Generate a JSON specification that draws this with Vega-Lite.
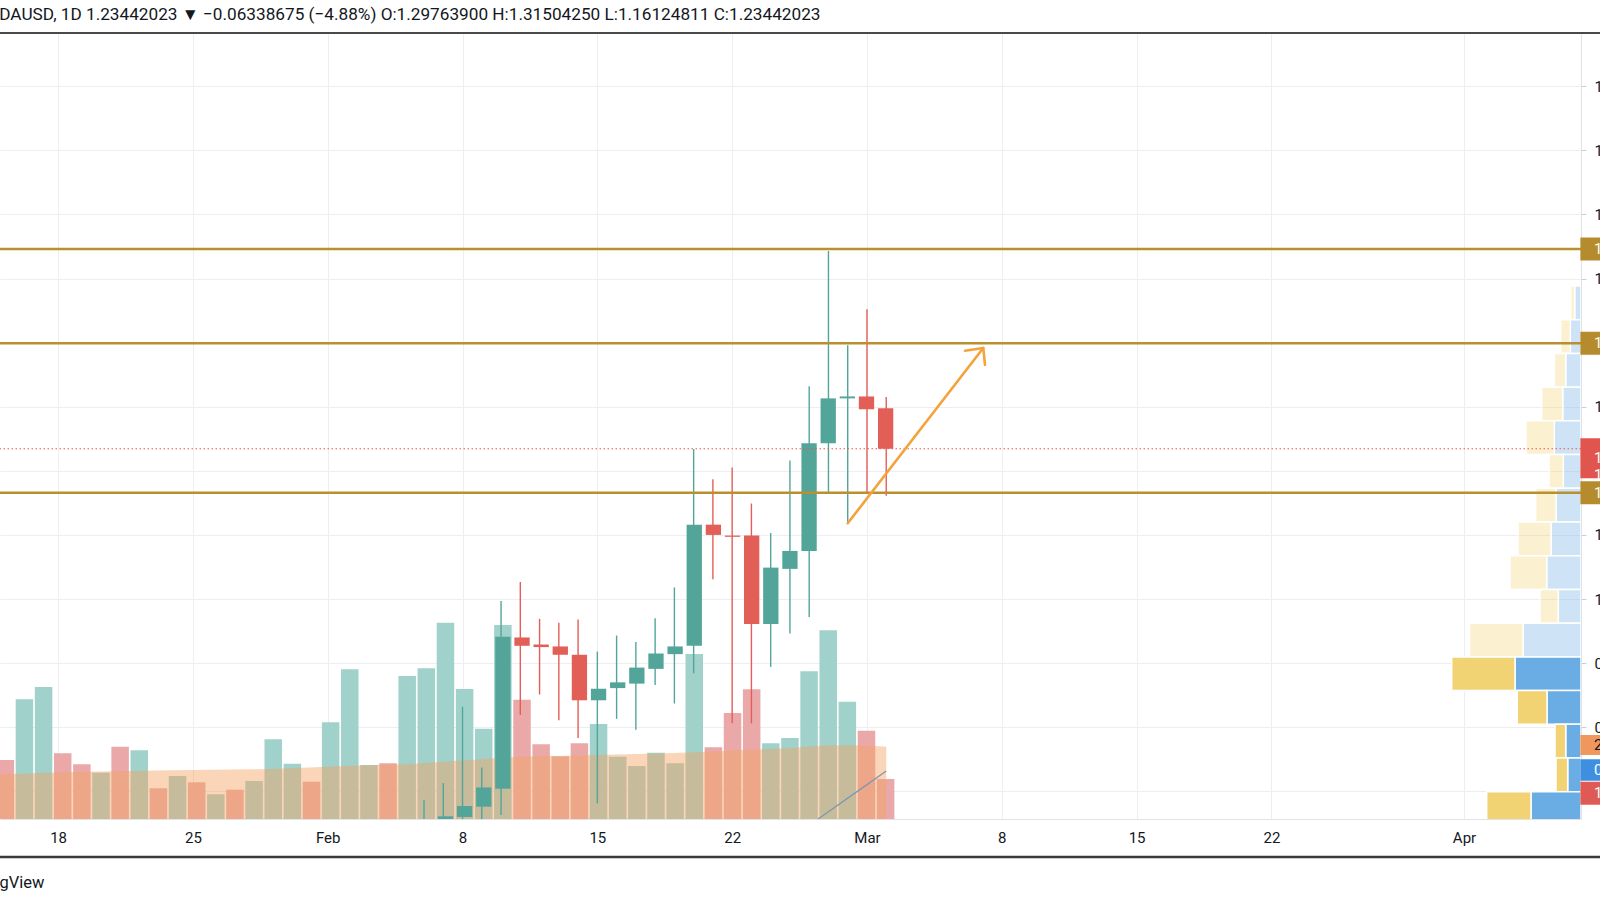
{
  "$schema": "https://vega.github.io/schema/vega-lite/v6.json",
  "width": 1581,
  "height": 786,
  "autosize": {"type": "none"},
  "padding": {"left": 0, "top": 33, "right": 19, "bottom": 81},
  "background": "#ffffff",
  "config": {
    "view": {"stroke": null},
    "font": "Roboto",
    "legend": {"disable": true},
    "axis": {"labelFont": "Roboto", "titleFont": "Roboto"}
  },
  "title": {
    "text": "ADAUSD, 1D  1.23442023 ▼ −0.06338675 (−4.88%)  O:1.29763900  H:1.31504250  L:1.16124811  C:1.23442023",
    "anchor": "start",
    "frame": "group",
    "dx": -12,
    "offset": 9,
    "fontSize": 17.2,
    "fontWeight": "normal",
    "color": "#131722",
    "font": "Roboto"
  },
  "datasets": {
    "candles": [
      {"t": "2021-02-06", "o": 0.62, "h": 0.686, "l": 0.58, "c": 0.64},
      {"t": "2021-02-07", "o": 0.64, "h": 0.713, "l": 0.6, "c": 0.661},
      {"t": "2021-02-08", "o": 0.66, "h": 0.832, "l": 0.655, "c": 0.677},
      {"t": "2021-02-09", "o": 0.676, "h": 0.737, "l": 0.645, "c": 0.706},
      {"t": "2021-02-10", "o": 0.704, "h": 0.997, "l": 0.663, "c": 0.941},
      {"t": "2021-02-11", "o": 0.94, "h": 1.0265, "l": 0.819, "c": 0.927},
      {"t": "2021-02-12", "o": 0.929, "h": 0.969, "l": 0.851, "c": 0.925},
      {"t": "2021-02-13", "o": 0.926, "h": 0.963, "l": 0.811, "c": 0.913},
      {"t": "2021-02-14", "o": 0.913, "h": 0.968, "l": 0.783, "c": 0.842},
      {"t": "2021-02-15", "o": 0.842, "h": 0.918, "l": 0.681, "c": 0.86},
      {"t": "2021-02-16", "o": 0.861, "h": 0.943, "l": 0.813, "c": 0.87},
      {"t": "2021-02-17", "o": 0.868, "h": 0.933, "l": 0.796, "c": 0.893},
      {"t": "2021-02-18", "o": 0.891, "h": 0.97, "l": 0.866, "c": 0.915},
      {"t": "2021-02-19", "o": 0.914, "h": 1.018, "l": 0.837, "c": 0.926},
      {"t": "2021-02-20", "o": 0.927, "h": 1.234, "l": 0.884, "c": 1.116},
      {"t": "2021-02-21", "o": 1.116, "h": 1.187, "l": 1.031, "c": 1.1},
      {"t": "2021-02-22", "o": 1.099, "h": 1.205, "l": 0.806, "c": 1.097},
      {"t": "2021-02-23", "o": 1.099, "h": 1.149, "l": 0.806, "c": 0.961},
      {"t": "2021-02-24", "o": 0.961, "h": 1.103, "l": 0.894, "c": 1.049},
      {"t": "2021-02-25", "o": 1.047, "h": 1.216, "l": 0.946, "c": 1.075},
      {"t": "2021-02-26", "o": 1.075, "h": 1.332, "l": 0.972, "c": 1.243},
      {"t": "2021-02-27", "o": 1.243, "h": 1.543, "l": 1.167, "c": 1.313},
      {"t": "2021-02-28", "o": 1.313, "h": 1.396, "l": 1.118, "c": 1.316},
      {"t": "2021-03-01", "o": 1.316, "h": 1.452, "l": 1.165, "c": 1.296},
      {"t": "2021-03-02", "o": 1.2976, "h": 1.315, "l": 1.1612, "c": 1.2344}
    ],
    "vol": [
      {"t": "2021-01-15", "vol": 590, "side": "down", "ma": 450},
      {"t": "2021-01-16", "vol": 1197, "side": "up", "ma": 453},
      {"t": "2021-01-17", "vol": 1320, "side": "up", "ma": 460},
      {"t": "2021-01-18", "vol": 657, "side": "down", "ma": 465},
      {"t": "2021-01-19", "vol": 547, "side": "down", "ma": 470},
      {"t": "2021-01-20", "vol": 463, "side": "up", "ma": 475},
      {"t": "2021-01-21", "vol": 723, "side": "down", "ma": 478},
      {"t": "2021-01-22", "vol": 687, "side": "up", "ma": 480},
      {"t": "2021-01-23", "vol": 307, "side": "down", "ma": 485},
      {"t": "2021-01-24", "vol": 430, "side": "up", "ma": 487},
      {"t": "2021-01-25", "vol": 367, "side": "down", "ma": 490},
      {"t": "2021-01-26", "vol": 247, "side": "up", "ma": 492},
      {"t": "2021-01-27", "vol": 293, "side": "down", "ma": 495},
      {"t": "2021-01-28", "vol": 380, "side": "up", "ma": 498},
      {"t": "2021-01-29", "vol": 797, "side": "up", "ma": 500},
      {"t": "2021-01-30", "vol": 553, "side": "up", "ma": 507},
      {"t": "2021-01-31", "vol": 373, "side": "down", "ma": 515},
      {"t": "2021-02-01", "vol": 967, "side": "up", "ma": 523},
      {"t": "2021-02-02", "vol": 1497, "side": "up", "ma": 530},
      {"t": "2021-02-03", "vol": 540, "side": "up", "ma": 537},
      {"t": "2021-02-04", "vol": 557, "side": "down", "ma": 543},
      {"t": "2021-02-05", "vol": 1430, "side": "up", "ma": 547},
      {"t": "2021-02-06", "vol": 1507, "side": "up", "ma": 560},
      {"t": "2021-02-07", "vol": 1963, "side": "up", "ma": 573},
      {"t": "2021-02-08", "vol": 1300, "side": "up", "ma": 587},
      {"t": "2021-02-09", "vol": 903, "side": "up", "ma": 597},
      {"t": "2021-02-10", "vol": 1940, "side": "up", "ma": 615},
      {"t": "2021-02-11", "vol": 1193, "side": "down", "ma": 623},
      {"t": "2021-02-12", "vol": 747, "side": "down", "ma": 627},
      {"t": "2021-02-13", "vol": 627, "side": "down", "ma": 630},
      {"t": "2021-02-14", "vol": 757, "side": "down", "ma": 635},
      {"t": "2021-02-15", "vol": 950, "side": "up", "ma": 640},
      {"t": "2021-02-16", "vol": 623, "side": "up", "ma": 645},
      {"t": "2021-02-17", "vol": 530, "side": "up", "ma": 650},
      {"t": "2021-02-18", "vol": 663, "side": "up", "ma": 655},
      {"t": "2021-02-19", "vol": 557, "side": "up", "ma": 660},
      {"t": "2021-02-20", "vol": 1650, "side": "up", "ma": 667},
      {"t": "2021-02-21", "vol": 717, "side": "down", "ma": 675},
      {"t": "2021-02-22", "vol": 1060, "side": "down", "ma": 685},
      {"t": "2021-02-23", "vol": 1297, "side": "down", "ma": 695},
      {"t": "2021-02-24", "vol": 757, "side": "up", "ma": 700},
      {"t": "2021-02-25", "vol": 810, "side": "up", "ma": 710},
      {"t": "2021-02-26", "vol": 1477, "side": "up", "ma": 725},
      {"t": "2021-02-27", "vol": 1887, "side": "up", "ma": 737},
      {"t": "2021-02-28", "vol": 1173, "side": "up", "ma": 737},
      {"t": "2021-03-01", "vol": 883, "side": "down", "ma": 735},
      {"t": "2021-03-02", "vol": 400, "side": "down", "ma": 723}
    ],
    "ind": [
      {"t": "2021-02-26", "v": -62},
      {"t": "2021-02-27", "v": 73},
      {"t": "2021-02-28", "v": 209},
      {"t": "2021-03-01", "v": 344},
      {"t": "2021-03-02", "v": 480}
    ],
    "vp": [
      {"lo": 1.4357, "hi": 1.4883, "side": "up", "zone": "out", "vol": 63},
      {"lo": 1.4357, "hi": 1.4883, "side": "down", "zone": "out", "vol": 40},
      {"lo": 1.3831, "hi": 1.4357, "side": "up", "zone": "out", "vol": 107},
      {"lo": 1.3831, "hi": 1.4357, "side": "down", "zone": "out", "vol": 96},
      {"lo": 1.3305, "hi": 1.3831, "side": "up", "zone": "out", "vol": 153},
      {"lo": 1.3305, "hi": 1.3831, "side": "down", "zone": "out", "vol": 114},
      {"lo": 1.2779, "hi": 1.3305, "side": "up", "zone": "out", "vol": 183},
      {"lo": 1.2779, "hi": 1.3305, "side": "down", "zone": "out", "vol": 210},
      {"lo": 1.2253, "hi": 1.2779, "side": "up", "zone": "out", "vol": 267},
      {"lo": 1.2253, "hi": 1.2779, "side": "down", "zone": "out", "vol": 283},
      {"lo": 1.1727, "hi": 1.2253, "side": "up", "zone": "out", "vol": 177},
      {"lo": 1.1727, "hi": 1.2253, "side": "down", "zone": "out", "vol": 143},
      {"lo": 1.1201, "hi": 1.1727, "side": "up", "zone": "out", "vol": 250},
      {"lo": 1.1201, "hi": 1.1727, "side": "down", "zone": "out", "vol": 203},
      {"lo": 1.0675, "hi": 1.1201, "side": "up", "zone": "out", "vol": 300},
      {"lo": 1.0675, "hi": 1.1201, "side": "down", "zone": "out", "vol": 330},
      {"lo": 1.0149, "hi": 1.0675, "side": "up", "zone": "out", "vol": 343},
      {"lo": 1.0149, "hi": 1.0675, "side": "down", "zone": "out", "vol": 367},
      {"lo": 0.9623, "hi": 1.0149, "side": "up", "zone": "out", "vol": 227},
      {"lo": 0.9623, "hi": 1.0149, "side": "down", "zone": "out", "vol": 183},
      {"lo": 0.9097, "hi": 0.9623, "side": "up", "zone": "out", "vol": 580},
      {"lo": 0.9097, "hi": 0.9623, "side": "down", "zone": "out", "vol": 537},
      {"lo": 0.8571, "hi": 0.9097, "side": "up", "zone": "va", "vol": 660},
      {"lo": 0.8571, "hi": 0.9097, "side": "down", "zone": "va", "vol": 633},
      {"lo": 0.8045, "hi": 0.8571, "side": "up", "zone": "va", "vol": 340},
      {"lo": 0.8045, "hi": 0.8571, "side": "down", "zone": "va", "vol": 297},
      {"lo": 0.7519, "hi": 0.8045, "side": "up", "zone": "va", "vol": 153},
      {"lo": 0.7519, "hi": 0.8045, "side": "down", "zone": "va", "vol": 107},
      {"lo": 0.6993, "hi": 0.7519, "side": "up", "zone": "va", "vol": 133},
      {"lo": 0.6993, "hi": 0.7519, "side": "down", "zone": "va", "vol": 117},
      {"lo": 0.6467, "hi": 0.6993, "side": "up", "zone": "va", "vol": 500},
      {"lo": 0.6467, "hi": 0.6993, "side": "down", "zone": "va", "vol": 443}
    ],
    "levels": [
      {"p": 1.546},
      {"p": 1.3989},
      {"p": 1.1658}
    ],
    "last": [
      {"p": 1.2344}
    ],
    "arrow": [
      {"seg": "shaft", "ord": 1, "t": "2021-02-28T00:00:00Z", "p": 1.1181},
      {"seg": "shaft", "ord": 2, "t": "2021-03-07T00:55:00Z", "p": 1.3916},
      {"seg": "head", "ord": 1, "t": "2021-03-06T02:07:00Z", "p": 1.3874},
      {"seg": "head", "ord": 2, "t": "2021-03-07T00:55:00Z", "p": 1.3916},
      {"seg": "head", "ord": 3, "t": "2021-03-07T03:03:00Z", "p": 1.3651}
    ],
    "ptags": [
      {"v": 1.546, "label": "1.54600000", "kind": "level"},
      {"v": 1.3989, "label": "1.39890000", "kind": "level"},
      {"v": 1.1658, "label": "1.16580000", "kind": "level"},
      {"v": 1.2195, "label": "1.23442023\n11:45:06", "kind": "last"}
    ],
    "vtags": [
      {"v": 740, "label": "2.91M", "kind": "ma"},
      {"v": 490, "label": "0.48M", "kind": "line"},
      {"v": 257, "label": "1.13M", "kind": "vol"}
    ]
  },
  "resolve": {
    "scale": {"x": "independent", "y": "independent", "color": "independent", "strokeWidth": "independent", "fillOpacity": "independent"},
    "axis": {"x": "independent", "y": "independent"}
  },
  "layer": [
    {
      "data": {"name": "candles"},
      "mark": {"type": "rule", "strokeWidth": 0, "opacity": 0},
      "encoding": {
        "x": {
          "field": "t", "type": "temporal",
          "scale": {"type": "utc", "domain": [{"year": 2021, "month": 1, "date": 14, "hours": 23, "minutes": 37, "utc": true}, {"year": 2021, "month": 4, "date": 7, "hours": 1, "minutes": 47, "utc": true}]},
          "axis": {
            "orient": "bottom", "title": "TradingView", "grid": true, "gridColor": "#eceef2", "ticks": false,
            "domain": true, "domainColor": "#dfe2e6",
            "values": [
              {"year": 2021, "month": 1, "date": 18, "utc": true},
              {"year": 2021, "month": 1, "date": 25, "utc": true},
              {"year": 2021, "month": 2, "date": 1, "utc": true},
              {"year": 2021, "month": 2, "date": 8, "utc": true},
              {"year": 2021, "month": 2, "date": 15, "utc": true},
              {"year": 2021, "month": 2, "date": 22, "utc": true},
              {"year": 2021, "month": 3, "date": 1, "utc": true},
              {"year": 2021, "month": 3, "date": 8, "utc": true},
              {"year": 2021, "month": 3, "date": 15, "utc": true},
              {"year": 2021, "month": 3, "date": 22, "utc": true},
              {"year": 2021, "month": 4, "date": 1, "utc": true}
            ],
            "labelExpr": "utcdate(datum.value) == 1 ? utcFormat(datum.value, '%b') : utcFormat(datum.value, '%-d')",
            "labelFontSize": 15, "labelColor": "#131722", "labelPadding": 11, "labelFlush": false, "labelOverlap": false,
            "titleX": 44, "titleY": 63, "titleAlign": "right", "titleBaseline": "middle",
            "titleFontSize": 16.5, "titleFontWeight": "normal", "titleColor": "#131722"
          }
        },
        "y": {
          "field": "l", "type": "quantitative",
          "scale": {"domain": [0.6568, 1.883], "nice": false, "zero": false},
          "axis": {
            "orient": "right", "title": null, "values": [0.7, 0.8, 0.9, 1.0, 1.1, 1.2, 1.3, 1.4, 1.5, 1.6, 1.7, 1.8],
            "format": ".8f", "grid": true, "gridColor": "#eceef2", "tickSize": 5, "tickColor": "#c9ccd1",
            "domainColor": "#dfe2e6", "labelFontSize": 15, "labelPadding": 8, "labelColor": "#131722",
            "labelFlush": false, "labelOverlap": false
          }
        },
        "y2": {"field": "h"}
      }
    },
    {
      "data": {"name": "vol"},
      "mark": {"type": "bar", "size": 17.5, "clip": true},
      "encoding": {
        "x": {"field": "t", "type": "temporal", "scale": {"type": "utc", "domain": [{"year": 2021, "month": 1, "date": 14, "hours": 23, "minutes": 37, "utc": true}, {"year": 2021, "month": 4, "date": 7, "hours": 1, "minutes": 47, "utc": true}]}, "axis": null},
        "y": {"field": "vol", "type": "quantitative", "scale": {"domain": [0, 7860], "nice": false, "zero": false}, "axis": null},
        "color": {"field": "side", "type": "nominal", "scale": {"domain": ["up", "down"], "range": ["#a0d2cb", "#eaa9a8"]}, "legend": null}
      }
    },
    {
      "data": {"name": "vol"},
      "mark": {"type": "area", "color": "#f5a262", "opacity": 0.45, "clip": true},
      "encoding": {
        "x": {"field": "t", "type": "temporal", "scale": {"type": "utc", "domain": [{"year": 2021, "month": 1, "date": 14, "hours": 23, "minutes": 37, "utc": true}, {"year": 2021, "month": 4, "date": 7, "hours": 1, "minutes": 47, "utc": true}]}, "axis": null},
        "y": {"field": "ma", "type": "quantitative", "scale": {"domain": [0, 7860], "nice": false, "zero": false}, "axis": null}
      }
    },
    {
      "data": {"name": "ind"},
      "mark": {"type": "line", "color": "#8098b0", "strokeWidth": 1.3, "clip": true},
      "encoding": {
        "x": {"field": "t", "type": "temporal", "scale": {"type": "utc", "domain": [{"year": 2021, "month": 1, "date": 14, "hours": 23, "minutes": 37, "utc": true}, {"year": 2021, "month": 4, "date": 7, "hours": 1, "minutes": 47, "utc": true}]}, "axis": null},
        "y": {"field": "v", "type": "quantitative", "scale": {"domain": [0, 7860], "nice": false, "zero": false}, "axis": null}
      }
    },
    {
      "data": {"name": "vp"},
      "transform": [
        {"stack": "vol", "groupby": ["lo"], "sort": [{"field": "side", "order": "descending"}], "as": ["v0", "v1"]}
      ],
      "mark": {"type": "bar", "stroke": "#ffffff", "strokeWidth": 1.5, "clip": true},
      "encoding": {
        "x": {"field": "v0", "type": "quantitative", "scale": {"domain": [0, 15810], "reverse": true, "nice": false, "zero": false}, "axis": null},
        "x2": {"field": "v1"},
        "y": {"field": "lo", "type": "quantitative", "scale": {"domain": [0.6568, 1.883], "nice": false, "zero": false}, "axis": null},
        "y2": {"field": "hi"},
        "color": {"field": "side", "type": "nominal", "scale": {"domain": ["up", "down"], "range": ["#6aade4", "#f2d374"]}, "legend": null},
        "fillOpacity": {"field": "zone", "type": "nominal", "scale": {"domain": ["va", "out"], "range": [1, 0.33]}, "legend": null}
      }
    },
    {
      "data": {"name": "candles"},
      "mark": {"type": "rule", "strokeWidth": 1.4, "clip": true},
      "encoding": {
        "x": {"field": "t", "type": "temporal", "scale": {"type": "utc", "domain": [{"year": 2021, "month": 1, "date": 14, "hours": 23, "minutes": 37, "utc": true}, {"year": 2021, "month": 4, "date": 7, "hours": 1, "minutes": 47, "utc": true}]}, "axis": null},
        "y": {"field": "l", "type": "quantitative", "scale": {"domain": [0.6568, 1.883], "nice": false, "zero": false}, "axis": null},
        "y2": {"field": "h"},
        "color": {"condition": {"test": "datum.c >= datum.o", "value": "#53a599"}, "value": "#e15f57"}
      }
    },
    {
      "data": {"name": "candles"},
      "mark": {"type": "bar", "size": 15.3, "clip": true},
      "encoding": {
        "x": {"field": "t", "type": "temporal", "scale": {"type": "utc", "domain": [{"year": 2021, "month": 1, "date": 14, "hours": 23, "minutes": 37, "utc": true}, {"year": 2021, "month": 4, "date": 7, "hours": 1, "minutes": 47, "utc": true}]}, "axis": null},
        "y": {"field": "o", "type": "quantitative", "scale": {"domain": [0.6568, 1.883], "nice": false, "zero": false}, "axis": null},
        "y2": {"field": "c"},
        "color": {"condition": {"test": "datum.c >= datum.o", "value": "#53a599"}, "value": "#e15f57"}
      }
    },
    {
      "data": {"name": "levels"},
      "mark": {"type": "rule", "color": "#b9902f", "strokeWidth": 2.6},
      "encoding": {
        "y": {"field": "p", "type": "quantitative", "scale": {"domain": [0.6568, 1.883], "nice": false, "zero": false}, "axis": null}
      }
    },
    {
      "data": {"name": "last"},
      "mark": {"type": "rule", "color": "#ef5350", "strokeWidth": 1, "strokeDash": [1.5, 2.5]},
      "encoding": {
        "y": {"field": "p", "type": "quantitative", "scale": {"domain": [0.6568, 1.883], "nice": false, "zero": false}, "axis": null}
      }
    },
    {
      "data": {"name": "arrow"},
      "mark": {"type": "line", "color": "#f5a23c", "strokeWidth": 2.6, "strokeCap": "round", "strokeJoin": "round"},
      "encoding": {
        "x": {"field": "t", "type": "temporal", "scale": {"type": "utc", "domain": [{"year": 2021, "month": 1, "date": 14, "hours": 23, "minutes": 37, "utc": true}, {"year": 2021, "month": 4, "date": 7, "hours": 1, "minutes": 47, "utc": true}]}, "axis": null},
        "y": {"field": "p", "type": "quantitative", "scale": {"domain": [0.6568, 1.883], "nice": false, "zero": false}, "axis": null},
        "detail": {"field": "seg", "type": "nominal"},
        "order": {"field": "ord", "type": "quantitative"}
      }
    },
    {
      "data": {"values": [{}]},
      "mark": {"type": "rule", "color": "#4a4a4a", "strokeWidth": 2},
      "encoding": {
        "x": {"datum": {"year": 2021, "month": 1, "date": 10, "utc": true}, "type": "temporal", "scale": {"type": "utc", "domain": [{"year": 2021, "month": 1, "date": 14, "hours": 23, "minutes": 37, "utc": true}, {"year": 2021, "month": 4, "date": 7, "hours": 1, "minutes": 47, "utc": true}]}, "axis": null},
        "x2": {"datum": {"year": 2021, "month": 4, "date": 12, "utc": true}},
        "y": {"datum": 1.883, "type": "quantitative", "scale": {"domain": [0.6568, 1.883], "nice": false, "zero": false}, "axis": null}
      }
    },
    {
      "data": {"values": [{}]},
      "mark": {"type": "rule", "color": "#3a3a3a", "strokeWidth": 2.5},
      "encoding": {
        "x": {"datum": {"year": 2021, "month": 1, "date": 10, "utc": true}, "type": "temporal", "scale": {"type": "utc", "domain": [{"year": 2021, "month": 1, "date": 14, "hours": 23, "minutes": 37, "utc": true}, {"year": 2021, "month": 4, "date": 7, "hours": 1, "minutes": 47, "utc": true}]}, "axis": null},
        "x2": {"datum": {"year": 2021, "month": 4, "date": 12, "utc": true}},
        "y": {"datum": -380, "type": "quantitative", "scale": {"domain": [0, 7860], "nice": false, "zero": false}, "axis": null}
      }
    },
    {
      "data": {"name": "ptags"},
      "mark": {"type": "rule"},
      "encoding": {
        "x": {"datum": {"year": 2021, "month": 4, "date": 7, "hours": 1, "minutes": 0, "utc": true}, "type": "temporal", "scale": {"type": "utc", "domain": [{"year": 2021, "month": 1, "date": 14, "hours": 23, "minutes": 37, "utc": true}, {"year": 2021, "month": 4, "date": 7, "hours": 1, "minutes": 47, "utc": true}]}, "axis": null},
        "x2": {"datum": {"year": 2021, "month": 4, "date": 12, "utc": true}},
        "y": {"field": "v", "type": "quantitative", "scale": {"domain": [0.6568, 1.883], "nice": false, "zero": false}, "axis": null},
        "color": {"field": "kind", "type": "nominal", "scale": {"domain": ["level", "last"], "range": ["#b58b2d", "#e0564f"]}, "legend": null},
        "strokeWidth": {"field": "kind", "type": "nominal", "scale": {"domain": ["level", "last"], "range": [23, 40]}, "legend": null}
      }
    },
    {
      "data": {"name": "ptags"},
      "mark": {"type": "text", "align": "left", "baseline": "middle", "dx": 13, "fontSize": 15, "color": "#ffffff", "lineBreak": "\n", "lineHeight": 17},
      "encoding": {
        "x": {"datum": {"year": 2021, "month": 4, "date": 7, "hours": 1, "minutes": 47, "utc": true}, "type": "temporal", "scale": {"type": "utc", "domain": [{"year": 2021, "month": 1, "date": 14, "hours": 23, "minutes": 37, "utc": true}, {"year": 2021, "month": 4, "date": 7, "hours": 1, "minutes": 47, "utc": true}]}, "axis": null},
        "y": {"field": "v", "type": "quantitative", "scale": {"domain": [0.6568, 1.883], "nice": false, "zero": false}, "axis": null},
        "text": {"field": "label"}
      }
    },
    {
      "data": {"name": "vtags"},
      "mark": {"type": "rule"},
      "encoding": {
        "x": {"datum": {"year": 2021, "month": 4, "date": 7, "hours": 1, "minutes": 0, "utc": true}, "type": "temporal", "scale": {"type": "utc", "domain": [{"year": 2021, "month": 1, "date": 14, "hours": 23, "minutes": 37, "utc": true}, {"year": 2021, "month": 4, "date": 7, "hours": 1, "minutes": 47, "utc": true}]}, "axis": null},
        "x2": {"datum": {"year": 2021, "month": 4, "date": 12, "utc": true}},
        "y": {"field": "v", "type": "quantitative", "scale": {"domain": [0, 7860], "nice": false, "zero": false}, "axis": null},
        "color": {"field": "kind", "type": "nominal", "scale": {"domain": ["ma", "line", "vol"], "range": ["#f0975e", "#3f8fe0", "#e05a55"]}, "legend": null},
        "strokeWidth": {"field": "kind", "type": "nominal", "scale": {"domain": ["ma", "line", "vol"], "range": [20, 23, 20]}, "legend": null}
      }
    },
    {
      "data": {"name": "vtags"},
      "mark": {"type": "text", "align": "left", "baseline": "middle", "dx": 13, "fontSize": 15},
      "encoding": {
        "x": {"datum": {"year": 2021, "month": 4, "date": 7, "hours": 1, "minutes": 47, "utc": true}, "type": "temporal", "scale": {"type": "utc", "domain": [{"year": 2021, "month": 1, "date": 14, "hours": 23, "minutes": 37, "utc": true}, {"year": 2021, "month": 4, "date": 7, "hours": 1, "minutes": 47, "utc": true}]}, "axis": null},
        "y": {"field": "v", "type": "quantitative", "scale": {"domain": [0, 7860], "nice": false, "zero": false}, "axis": null},
        "text": {"field": "label"},
        "color": {"field": "kind", "type": "nominal", "scale": {"domain": ["ma", "line", "vol"], "range": ["#131722", "#ffffff", "#ffffff"]}, "legend": null}
      }
    }
  ]
}
